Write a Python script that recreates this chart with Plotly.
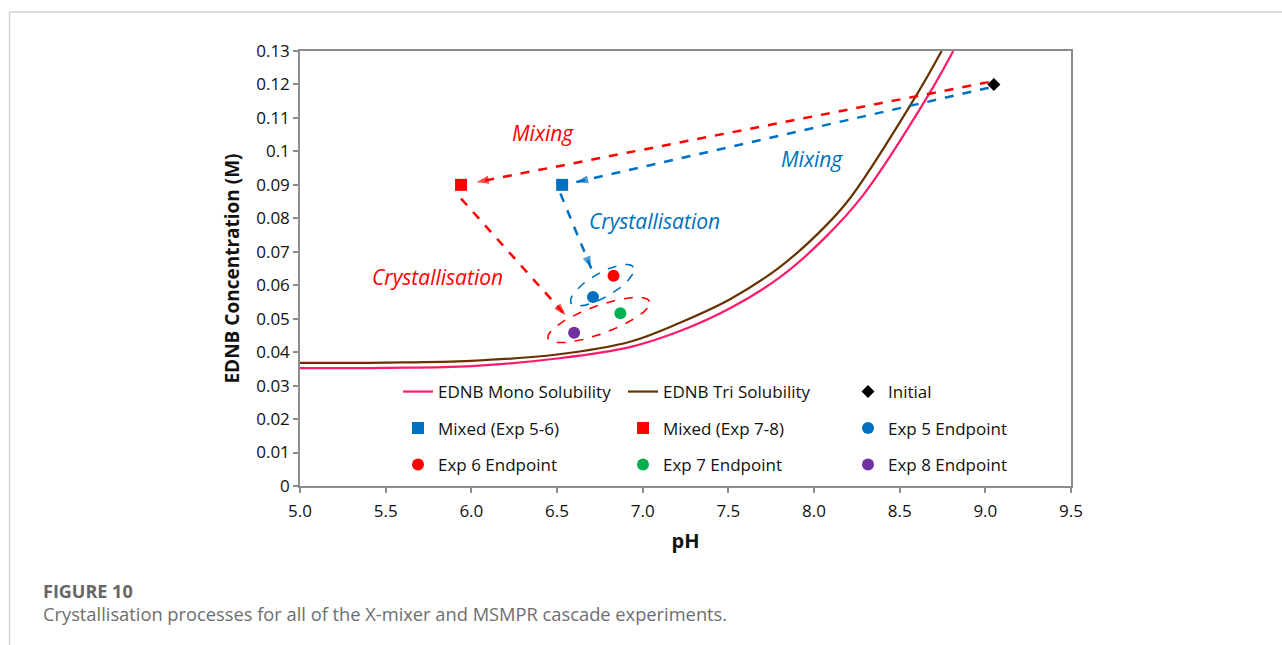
import numpy as np
import plotly.graph_objects as go

# ---------------- data ----------------
mono_ph = [5.0, 5.5, 6.0, 6.5, 6.926, 7.218, 7.51, 7.802, 8.054, 8.288, 8.657, 8.813]
mono_conc = [0.0352, 0.0353, 0.0358, 0.0381, 0.0415, 0.0463, 0.0531, 0.0624, 0.0737, 0.0870, 0.1159, 0.1300]
tri_ph = [5.0, 5.5, 6.0, 6.5, 6.926, 7.218, 7.51, 7.802, 8.054, 8.21, 8.599, 8.745]
tri_conc = [0.0368, 0.0369, 0.0374, 0.0393, 0.0431, 0.0488, 0.0558, 0.0655, 0.0770, 0.0860, 0.1169, 0.1300]

initial_ph, initial_conc = [9.05], [0.120]
mixed56_ph, mixed56_conc = [6.53], [0.090]
mixed78_ph, mixed78_conc = [5.94], [0.090]
exp5_ph, exp5_conc = [6.71], [0.0565]
exp6_ph, exp6_conc = [6.83], [0.0628]
exp7_ph, exp7_conc = [6.87], [0.0516]
exp8_ph, exp8_conc = [6.60], [0.0458]

# process arrows (start -> tip)
mix_red_ph, mix_red_conc = [9.02, 6.03], [0.1207, 0.0908]
mix_blue_ph, mix_blue_conc = [9.02, 6.61], [0.1190, 0.0908]
cry_red_ph, cry_red_conc = [5.94, 6.55], [0.0859, 0.0510]
cry_blue_ph, cry_blue_conc = [6.52, 6.70], [0.0874, 0.0650]

# grouping ellipses: centre (pH, conc)
ell_blue_c = (6.764, 0.0600)
ell_red_c = (6.744, 0.0496)

x_ticks = [5.0, 5.5, 6.0, 6.5, 7.0, 7.5, 8.0, 8.5, 9.0, 9.5]
y_ticks = [0, 0.01, 0.02, 0.03, 0.04, 0.05, 0.06, 0.07, 0.08, 0.09, 0.1, 0.11, 0.12, 0.13]
y_ticktext = ["0", "0.01", "0.02", "0.03", "0.04", "0.05", "0.06", "0.07", "0.08", "0.09",
              "0.1", "0.11", "0.12", "0.13"]

# ---------------- layout geometry ----------------
W, H = 1282, 645
ML, MR, MT, MB = 300, 211, 51, 159
PW, PH_ = W - ML - MR, H - MT - MB
XR, YR = (5.0, 9.5), (0.0, 0.13)
px_x = PW / (XR[1] - XR[0])
px_y = PH_ / (YR[1] - YR[0])

RED = "#FF0000"
BLUE = "#0070C0"
GREEN = "#00B050"
PURPLE = "#7030A0"
PINK = "#FF1A6E"
BROWN = "#663300"
FONT = "Open Sans"

fig = go.Figure()

# curves
fig.add_trace(go.Scatter(x=mono_ph, y=mono_conc, mode="lines", name="EDNB Mono Solubility",
                         line=dict(color=PINK, width=2.2, shape="spline", smoothing=1.0),
                         legend="legend"))
fig.add_trace(go.Scatter(x=tri_ph, y=tri_conc, mode="lines", name="EDNB Tri Solubility",
                         line=dict(color=BROWN, width=2.2, shape="spline", smoothing=1.0),
                         legend="legend"))


def arrow(xs, ys, color):
    fig.add_trace(go.Scatter(x=xs, y=ys, mode="lines", showlegend=False, hoverinfo="skip",
                             line=dict(color=color, width=2.5, dash="dash")))
    fig.add_trace(go.Scatter(x=xs, y=ys, mode="markers", showlegend=False, hoverinfo="skip",
                             marker=dict(symbol="arrow", size=[0, 13], color=color,
                                         angleref="previous", line=dict(width=0))))


arrow(mix_red_ph, mix_red_conc, RED)
arrow(mix_blue_ph, mix_blue_conc, BLUE)
arrow(cry_red_ph, cry_red_conc, RED)
arrow(cry_blue_ph, cry_blue_conc, BLUE)


def ellipse(c, a_px, b_px, ang_deg, color):
    t = np.linspace(0, 2 * np.pi, 120)
    phi = np.radians(ang_deg)
    dx = a_px * np.cos(t) * np.cos(phi) - b_px * np.sin(t) * np.sin(phi)
    dy = a_px * np.cos(t) * np.sin(phi) + b_px * np.sin(t) * np.cos(phi)
    fig.add_trace(go.Scatter(x=c[0] + dx / px_x, y=c[1] + dy / px_y, mode="lines",
                             showlegend=False, hoverinfo="skip",
                             line=dict(color=color, width=1.6, dash="dash")))


ellipse(ell_blue_c, 36, 12, 30, BLUE)
ellipse(ell_red_c, 54, 14, 20, RED)

# points
fig.add_trace(go.Scatter(x=initial_ph, y=initial_conc, mode="markers", name="Initial",
                         marker=dict(symbol="diamond", size=10, color="black"), legend="legend"))
fig.add_trace(go.Scatter(x=mixed56_ph, y=mixed56_conc, mode="markers", name="Mixed (Exp 5-6)",
                         marker=dict(symbol="square", size=12, color=BLUE), legend="legend2"))
fig.add_trace(go.Scatter(x=mixed78_ph, y=mixed78_conc, mode="markers", name="Mixed (Exp 7-8)",
                         marker=dict(symbol="square", size=12, color=RED), legend="legend2"))
fig.add_trace(go.Scatter(x=exp5_ph, y=exp5_conc, mode="markers", name="Exp 5 Endpoint",
                         marker=dict(symbol="circle", size=12, color=BLUE), legend="legend2"))
fig.add_trace(go.Scatter(x=exp6_ph, y=exp6_conc, mode="markers", name="Exp 6 Endpoint",
                         marker=dict(symbol="circle", size=12, color=RED), legend="legend3"))
fig.add_trace(go.Scatter(x=exp7_ph, y=exp7_conc, mode="markers", name="Exp 7 Endpoint",
                         marker=dict(symbol="circle", size=12, color=GREEN), legend="legend3"))
fig.add_trace(go.Scatter(x=exp8_ph, y=exp8_conc, mode="markers", name="Exp 8 Endpoint",
                         marker=dict(symbol="circle", size=12, color=PURPLE), legend="legend3"))


def px2paper(px, py):
    return (px - ML) / PW, (H - MB - py) / PH_


annotations = []
# italic process labels (anchored in data coords)
labels = [
    ("Mixing", 6.42, 0.1055, RED),
    ("Mixing", 7.99, 0.0978, BLUE),
    ("Crystallisation", 7.07, 0.0793, BLUE),
    ("Crystallisation", 5.80, 0.0625, RED),
]
for txt, x, y, col in labels:
    annotations.append(dict(x=x, y=y, xref="x", yref="y", text="<i>" + txt + "</i>", showarrow=False,
                            font=dict(family=FONT, size=21, color=col)))

fx, fy = px2paper(41, 591)
annotations.append(dict(x=fx, y=fy, xref="paper", yref="paper", xanchor="left", yanchor="middle",
                        text="<b>FIGURE 10</b>", showarrow=False,
                        font=dict(family="Open Sans", size=18, color="#666666")))
cx, cy = px2paper(41, 613)
annotations.append(dict(x=cx, y=cy, xref="paper", yref="paper", xanchor="left", yanchor="middle",
                        text="Crystallisation processes for all of the X-mixer and MSMPR cascade experiments.",
                        showarrow=False, font=dict(family="Open Sans", size=18.3, color="#6e6e6e")))

# page frame lines
x0, ytop = px2paper(9.5, 12)
x1, _ = px2paper(W, 12)
_, ybot = px2paper(9.5, H)
shapes = [
    dict(type="line", xref="paper", yref="paper", x0=x0, x1=x1, y0=ytop, y1=ytop,
         line=dict(color="#d2d2d2", width=1.5)),
    dict(type="line", xref="paper", yref="paper", x0=x0, x1=x0, y0=ytop, y1=ybot,
         line=dict(color="#d2d2d2", width=1.5)),
]

leg_common = dict(orientation="h", xanchor="left", yanchor="middle", bgcolor="rgba(0,0,0,0)",
                  entrywidth=180, font=dict(family=FONT, size=17, color="#111111"),
                  itemclick=False, itemdoubleclick=False, tracegroupgap=0)
lx, _ = px2paper(398, 0)
_, ly1 = px2paper(0, 392)
_, ly2 = px2paper(0, 428.5)
_, ly3 = px2paper(0, 465)

fig.update_layout(
    width=W, height=H,
    margin=dict(l=ML, r=MR, t=MT, b=MB, autoexpand=False),
    paper_bgcolor="white", plot_bgcolor="white",
    showlegend=True,
    legend=dict(x=lx, y=ly1, **leg_common),
    legend2=dict(x=lx, y=ly2, **leg_common),
    legend3=dict(x=lx, y=ly3, **leg_common),
    annotations=annotations,
    shapes=shapes,
    font=dict(family=FONT, size=17, color="#111111"),
)

fig.update_xaxes(range=list(XR), tickvals=x_ticks, ticktext=[f"{v:.1f}" for v in x_ticks],
                 showgrid=False, zeroline=False, showline=True, linecolor="#8c8c8c", linewidth=1.5,
                 mirror=True, ticks="outside", ticklen=5, tickcolor="#8c8c8c", tickwidth=1.5,
                 ticklabelstandoff=4,
                 tickfont=dict(family=FONT, size=17, color="#111111"),
                 title=dict(text="<b>pH</b>", font=dict(family=FONT, size=20, color="#111111"), standoff=13))
fig.update_yaxes(range=list(YR), tickvals=y_ticks, ticktext=y_ticktext,
                 showgrid=False, zeroline=False, showline=True, linecolor="#8c8c8c", linewidth=1.5,
                 mirror=True, ticks="outside", ticklen=5, tickcolor="#8c8c8c", tickwidth=1.5,
                 tickfont=dict(family=FONT, size=17, color="#111111"),
                 title=dict(text="<b>EDNB Concentration (M)</b>",
                            font=dict(family=FONT, size=19, color="#111111"), standoff=12))

fig.write_html("out.html", config={"displayModeBar": False},
               post_script="document.body.style.margin='0';document.body.style.overflow='hidden';")
